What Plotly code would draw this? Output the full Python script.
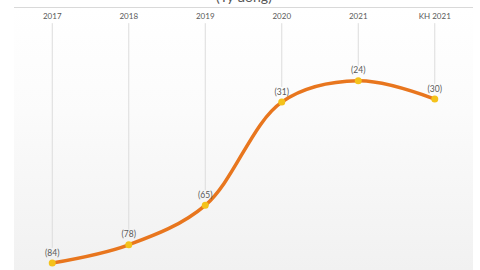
import plotly.graph_objects as go

categories = ["2017", "2018", "2019", "2020", "2021", "KH 2021"]
values = [-84, -78, -65, -31, -24, -30]
labels = ["(84)", "(78)", "(65)", "(31)", "(24)", "(30)"]

drop_top = -5
drop_gap = 5

fig = go.Figure()

# background gradient on base axes
fig.add_trace(go.Scatter(
    x=[0, 1, 1, 0, 0], y=[0, 0, 1, 1, 0], xaxis="x", yaxis="y",
    mode="lines", line=dict(width=0), fill="toself",
    fillgradient=dict(type="vertical",
                      colorscale=[[0, "#f1f1f1"], [0.6, "#fbfbfb"], [1, "#ffffff"]]),
    hoverinfo="skip", showlegend=False))

# drop lines
dx, dy = [], []
for c, v in zip(categories, values):
    dx += [c, c, None]
    dy += [drop_top, v + drop_gap, None]
fig.add_trace(go.Scatter(x=dx, y=dy, mode="lines", xaxis="x2", yaxis="y2",
                         line=dict(color="#dcdcdc", width=1),
                         hoverinfo="skip", showlegend=False))

fig.add_trace(go.Scatter(
    x=categories, y=values, mode="lines+markers+text", xaxis="x2", yaxis="y2",
    text=labels, textposition="top center",
    textfont=dict(size=8.5, color="#595959", family="Lato"),
    line=dict(color="#E8761E", width=3.5, shape="spline", smoothing=1.0),
    marker=dict(color="#F4C21B", size=7),
    showlegend=False, cliponaxis=False))

fig.update_layout(
    width=480, height=270,
    margin=dict(l=14, r=7, t=8, b=0),
    paper_bgcolor="white", plot_bgcolor="white",
    font=dict(family="Lato", color="#595959"),
    xaxis=dict(range=[0, 1], visible=False),
    yaxis=dict(range=[0, 1], visible=False),
    xaxis2=dict(type="category", range=[-0.5, 5.5], side="top", overlaying="x",
                ticklabelposition="inside", ticklabelstandoff=4,
                showgrid=False, zeroline=False,
                showline=True, linecolor="#d9d9d9", linewidth=1,
                tickfont=dict(size=8, color="#595959"), ticks=""),
    yaxis2=dict(range=[-86.3, 0], overlaying="y", showgrid=False, zeroline=False,
                showticklabels=False, showline=False),
    annotations=[dict(text="(Tỷ đồng)", xref="paper", yref="paper",
                      x=0.5, y=1, yanchor="middle", yshift=12,
                      showarrow=False, font=dict(size=14, color="#595959"))],
)

fig.write_html("out.html")
